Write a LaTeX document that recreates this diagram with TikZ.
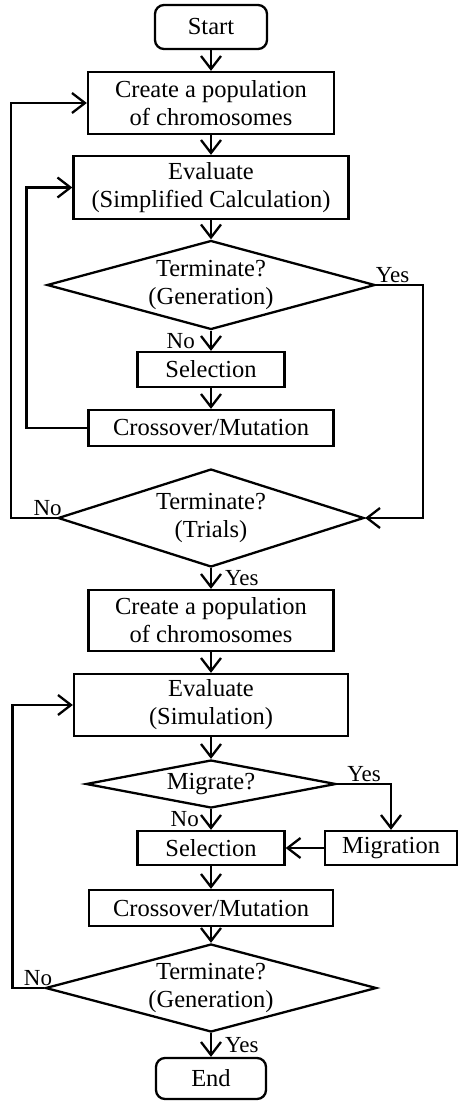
\documentclass[tikz,border=0pt]{standalone}
\usepackage{fontspec}
\setmainfont{Liberation Serif}
\usetikzlibrary{shapes.geometric,arrows.meta}

\begin{document}
\begin{tikzpicture}[x=1pt,y=-1pt,line width=2.3pt,
		>={Straight Barb[length=13pt,width=20pt]},
		every node/.style={font=\fontsize{24.5}{28}\selectfont},
		box/.style={draw, rectangle, inner sep=0pt, align=center},
		term/.style={box, rounded corners=9pt},
		cond/.style={draw, diamond, inner sep=0pt, align=center},
		lbl/.style={font=\fontsize{23}{26}\selectfont, inner sep=1pt}]
				\useasboundingbox (0,0) rectangle (462,1101);
				
				\node (box1) [term, minimum width=112pt, minimum height=44pt] at (211,27) {Start};
				\node (box2) [box, minimum width=246pt, minimum height=62pt] at (211,103) {Create a population\\of chromosomes};
				\node (box3) [box, minimum width=275pt, minimum height=63pt] at (211,187.5) {Evaluate\\(Simplified Calculation)};
				\node (dec1) [cond, shape aspect=3.7, minimum width=328pt, minimum height=89pt] at (211,285) {Terminate?\\(Generation)};
				\node (box4) [box, minimum width=147pt, minimum height=35pt] at (211,369.5) {Selection};
				\node (box5) [box, minimum width=245pt, minimum height=36pt] at (211,428) {Crossover/Mutation};
				\node (dec2) [cond, shape aspect=3.1, minimum width=306pt, minimum height=98pt] at (211,518) {Terminate?\\(Trials)};
				\node (box6) [box, minimum width=245pt, minimum height=61pt] at (211,620.5) {Create a population\\of chromosomes};
				\node (box7) [box, minimum width=274pt, minimum height=62pt] at (211,705) {Evaluate\\(Simulation)};
				\node (dec3) [cond, shape aspect=5.2, minimum width=250pt, minimum height=48pt] at (211,784) {Migrate?};
				\node (box8) [box, minimum width=147pt, minimum height=34pt] at (211,848) {Selection};
				\node (box9) [box, minimum width=132pt, minimum height=34pt] at (391,848) {Migration};
				\node (box10) [box, minimum width=244pt, minimum height=36pt] at (211,908) {Crossover/Mutation};
				\node (dec4) [cond, shape aspect=3.76, minimum width=331pt, minimum height=88pt] at (211,988) {Terminate?\\(Generation)};
				\node (box11) [term, minimum width=110pt, minimum height=41pt] at (211,1078.5) {End};
				
				% Arrows
				\draw[->] (box1) -- (box2);
				\draw[->] (box2) -- (box3);
				\draw[->] (box3) -- (dec1);
				\draw[->] (dec1) -- node[lbl, left=14pt] {No} (box4);
				\draw[->] (box4) -- (box5);
				\draw[->] (box5.west) -- ++(-61,0) |- (box3.west);
				\draw[->] (dec1.east) -- node[lbl, above, pos=0.35] {Yes} ++(47,0) |- (dec2.east);
				\draw[->] (dec2.west) -- node[lbl, above, pos=0.2] {No} ++(-46,0) |- (box2.west);
				\draw[->] (dec2) -- node[lbl, right=12pt] {Yes} (box6);
				\draw[->] (box6) -- (box7);
				\draw[->] (box7) -- (dec3);
				\draw[->] (dec3) -- node[lbl, left=10pt] {No} (box8);
				\draw[->] (dec3.east) -| node[lbl, above, pos=0.25] {Yes} (box9.north);
				\draw[->] (box9) -- (box8);
				\draw[->] (box8) -- (box10);
				\draw[->] (box10) -- (dec4);
				\draw[->] (dec4.west) -- node[lbl, above, pos=0.2] {No} ++(-32,0) |- (box7.west);
				\draw[->] (dec4) -- node[lbl, right=12pt] {Yes} (box11);
				
			\end{tikzpicture}
\end{document}
